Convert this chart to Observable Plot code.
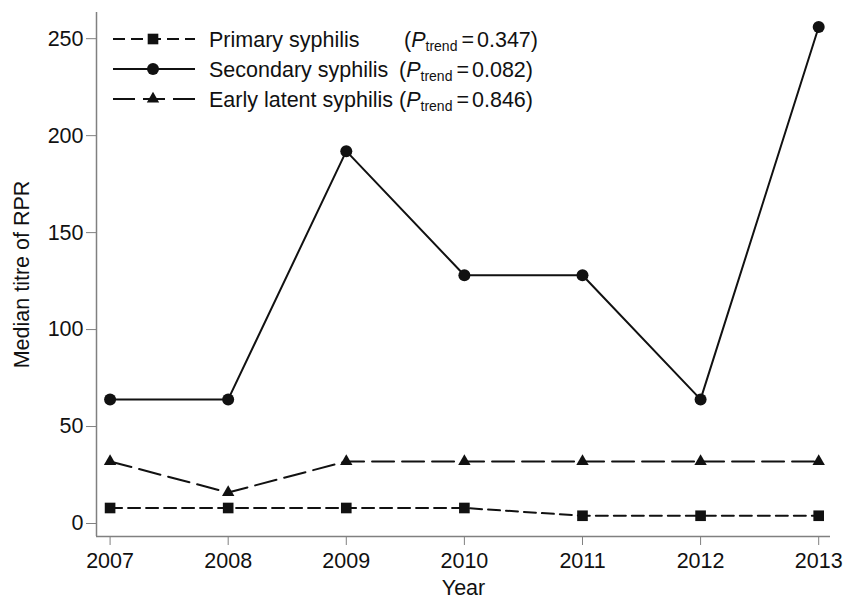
<!DOCTYPE html>
<html>
<head>
<meta charset="utf-8">
<script src="https://cdn.jsdelivr.net/npm/d3@7"></script>
<script src="https://cdn.jsdelivr.net/npm/@observablehq/plot@0.6"></script>
<style>
  html, body { margin: 0; padding: 0; background: white; }
  #wrap { position: relative; width: 844px; height: 600px; }
  #legend { position: absolute; left: 0; top: 0; pointer-events: none; }
</style>
</head>
<body>
<div id="wrap"></div>
<script>
const years = [2007, 2008, 2009, 2010, 2011, 2012, 2013];
const primary = [8, 8, 8, 8, 4, 4, 4];
const secondary = [64, 64, 192, 128, 128, 64, 256];
const earlyLatent = [32, 16, 32, 32, 32, 32, 32];
const yTicks = [0, 50, 100, 150, 200, 250];
const seriesNames = ["Primary syphilis", "Secondary syphilis", "Early latent syphilis"];
const pTrend = ["0.347", "0.082", "0.846"];

const xDomain = [2006.885, 2013.1];
const yDomain = [-6.7, 263.5];
const ink = "#111";
const axisGray = "#808080";
const font = "'Liberation Sans', Arial, Helvetica, sans-serif";

const styles = [
  {dash: "12,6", symbol: "square", r: 6},
  {dash: null, symbol: "circle", r: 6},
  {dash: "22,8", symbol: "triangle", r: 4.6}
];
const valuesList = [primary, secondary, earlyLatent];
const tables = valuesList.map((vals, i) => years.map((y, j) => ({year: y, value: vals[j], series: seriesNames[i]})));

const marks = [
  Plot.ruleX([xDomain[0]], {stroke: axisGray, strokeWidth: 1.5}),
  Plot.ruleY([yDomain[0]], {stroke: axisGray, strokeWidth: 1.5}),
  Plot.axisY({ticks: yTicks, tickSize: 10, tickPadding: 3, stroke: axisGray, fill: ink, fontSize: 21.5,
    label: "Median titre of RPR", labelAnchor: "center", labelArrow: "none", labelOffset: 83}),
  Plot.axisX({ticks: years, tickFormat: d => String(d), tickSize: 9, tickPadding: 7, stroke: axisGray, fill: ink, fontSize: 21.5,
    label: "Year", labelAnchor: "center", labelArrow: "none", labelOffset: 58})
];
tables.forEach((t, i) => {
  const s = styles[i];
  marks.push(Plot.line(t, {x: "year", y: "value", stroke: ink, strokeWidth: 2, strokeDasharray: s.dash || undefined}));
  marks.push(Plot.dot(t, {x: "year", y: "value", symbol: s.symbol, r: s.r, fill: ink, stroke: "none"}));
});

const chart = Plot.plot({
  width: 844, height: 600,
  marginLeft: 96, marginRight: 14, marginTop: 12, marginBottom: 64,
  x: {domain: xDomain},
  y: {domain: yDomain},
  style: {fontFamily: font, fontSize: "21.5px", color: ink, background: "white"},
  marks
});
const wrap = document.getElementById("wrap");
wrap.appendChild(chart);

// Legend overlay
const svg = d3.select(wrap).append("svg").attr("id", "legend")
  .attr("width", 844).attr("height", 130)
  .style("font-family", font).style("font-size", "21.5px");
const rowY = [39, 69, 99];
const pX = [404, 399, 399];
const symGen = {
  square: d3.symbolSquare, circle: d3.symbolCircle, triangle: d3.symbolTriangle
};
seriesNames.forEach((name, i) => {
  const s = styles[i];
  const g = svg.append("g").attr("transform", `translate(0,${rowY[i]})`);
  g.append("line").attr("x1", 113).attr("x2", 195).attr("y1", 0).attr("y2", 0)
    .attr("stroke", ink).attr("stroke-width", 2)
    .attr("stroke-dasharray", s.dash || null);
  g.append("path").attr("transform", "translate(153,0)")
    .attr("d", d3.symbol(symGen[s.symbol], Math.PI * s.r * s.r)())
    .attr("fill", ink);
  g.append("text").attr("x", 209).attr("y", 7.5).attr("fill", ink).text(name);
  const t = g.append("text").attr("x", pX[i]).attr("y", 7.5).attr("fill", ink);
  t.append("tspan").text("(");
  t.append("tspan").attr("font-style", "italic").text("P");
  t.append("tspan").attr("font-size", "14px").attr("dy", 4).text("trend");
  t.append("tspan").attr("dy", -4).attr("dx", 4).text("=");
  t.append("tspan").attr("dx", 3).text(pTrend[i] + ")");
});
</script>
</body>
</html>
